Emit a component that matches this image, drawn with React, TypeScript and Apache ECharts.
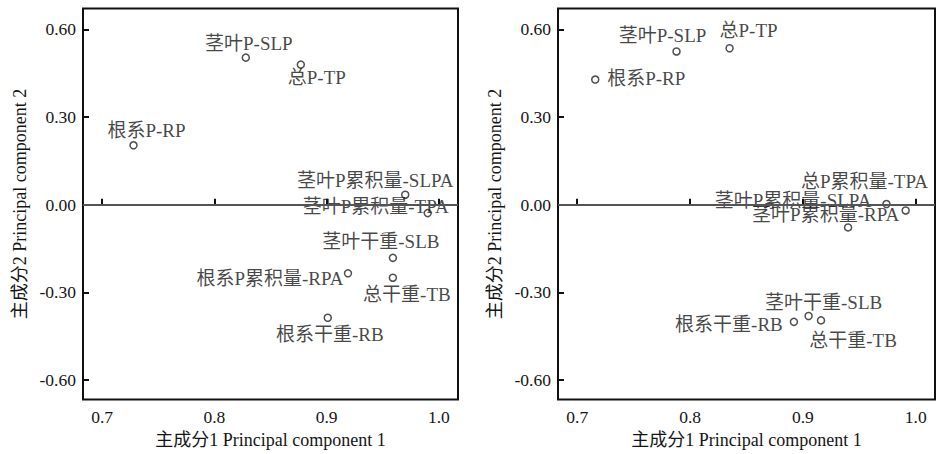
import React, { useEffect, useRef } from "react";
import * as echarts from "echarts";

// Left panel
const leftNames = ["茎叶P-SLP", "总P-TP", "根系P-RP", "茎叶P累积量-SLPA", "茎叶P累积量-TPA", "茎叶干重-SLB", "总干重-TB", "根系P累积量-RPA", "根系干重-RB"];
const leftPC1 = [0.828, 0.877, 0.728, 0.970, 0.990, 0.959, 0.959, 0.919, 0.901];
const leftPC2 = [0.503, 0.479, 0.203, 0.034, -0.029, -0.182, -0.250, -0.235, -0.387];

// Right panel
const rightNames = ["根系P-RP", "茎叶P-SLP", "总P-TP", "总P累积量-TPA", "茎叶P累积量-SLPA", "茎叶P累积量-RPA", "茎叶干重-SLB", "根系干重-RB", "总干重-TB"];
const rightPC1 = [0.716, 0.788, 0.835, 0.974, 0.940, 0.991, 0.905, 0.892, 0.916];
const rightPC2 = [0.428, 0.524, 0.535, 0.002, -0.078, -0.020, -0.381, -0.401, -0.396];

// Axis ticks
const xTicks = [0.7, 0.8, 0.9, 1.0];
const yTicks = [-0.6, -0.3, 0, 0.3, 0.6];
const xAxisName = "主成分1 Principal component 1";
const yAxisName = "主成分2 Principal component 2";

// Label placement (layout, kept apart from data)
const leftLabelOffsets = [[3, -14], [16, 13], [13, -15], [-30, -14], [-52, -7], [-12, -16], [14, 17], [-78, 5], [2, 17]];
const rightLabelOffsets = [[51, -1], [-14, -16], [19, -18], [-22, -23], [-55, -27], [-80, 4], [15, -14], [-65, 3], [32, 20]];

const FONT = "Liberation Serif, Times New Roman, DejaVu Serif, Noto Sans CJK SC, serif";
const TEXT = "#151515";

export default function App() {
  const ref = useRef<HTMLDivElement>(null);
  useEffect(() => {
    document.body.style.margin = "0";
    const chart = echarts.init(ref.current!, null, { renderer: "svg" });

    const mkX = (gi: number) => ({
      type: "value",
      gridIndex: gi,
      min: 0.683,
      max: 1.017,
      name: xAxisName,
      nameLocation: "middle",
      nameGap: 30,
      nameTextStyle: { fontFamily: FONT, fontSize: 18, color: TEXT },
      axisLine: { show: false },
      splitLine: { show: false },
      axisTick: { show: true, inside: true, length: 6, customValues: xTicks, lineStyle: { color: "#111", width: 2 } },
      axisLabel: {
        show: true,
        customValues: xTicks,
        margin: 9,
        fontFamily: FONT,
        fontSize: 17.5,
        color: TEXT,
        formatter: (v: number) => v.toFixed(1),
      },
    });
    const mkY = (gi: number) => ({
      type: "value",
      gridIndex: gi,
      min: -0.667,
      max: 0.671,
      name: yAxisName,
      nameLocation: "middle",
      nameGap: 54,
      nameRotate: 90,
      nameTextStyle: { fontFamily: FONT, fontSize: 18, color: TEXT },
      axisLine: { show: false },
      splitLine: { show: false },
      axisTick: { show: true, inside: true, length: 6, customValues: yTicks, lineStyle: { color: "#111", width: 2 } },
      axisLabel: {
        show: true,
        customValues: yTicks,
        margin: 7,
        fontFamily: FONT,
        fontSize: 17.5,
        color: TEXT,
        formatter: (v: number) => v.toFixed(2),
      },
    });

    const mkSeries = (gi: number, names: string[], xs: number[], ys: number[], offs: number[][]) => ({
      type: "scatter",
      xAxisIndex: gi,
      yAxisIndex: gi,
      symbol: "circle",
      symbolSize: 7,
      itemStyle: { color: "#fff", borderColor: "#222", borderWidth: 1.5 },
      data: names.map((n, i) => ({
        name: n,
        value: [xs[i], ys[i]],
        label: { offset: offs[i] },
      })),
      label: {
        show: true,
        position: "inside",
        formatter: (p: any) => p.name,
        fontFamily: FONT,
        fontSize: 19,
        color: TEXT,
      },
      markLine: {
        silent: true,
        symbol: "none",
        label: { show: false },
        lineStyle: { color: "#555", width: 2, type: "solid" },
        data: [{ yAxis: 0 }],
      },
      z: 3,
    });

    chart.setOption({
      animation: false,
      backgroundColor: "#fff",
      textStyle: { fontFamily: FONT },
      grid: [
        { left: 83, top: 8.5, width: 375, height: 393, show: true, borderColor: "#111", borderWidth: 2, backgroundColor: "transparent" },
        { left: 558, top: 8.5, width: 377, height: 393, show: true, borderColor: "#111", borderWidth: 2, backgroundColor: "transparent" },
      ],
      xAxis: [mkX(0), mkX(1)],
      yAxis: [mkY(0), mkY(1)],
      series: [
        mkSeries(0, leftNames, leftPC1, leftPC2, leftLabelOffsets),
        mkSeries(1, rightNames, rightPC1, rightPC2, rightLabelOffsets),
      ],
    });
    return () => chart.dispose();
  }, []);
  return <div ref={ref} style={{ position: "absolute", left: 0, top: 0, width: 936, height: 454 }} />;
}
